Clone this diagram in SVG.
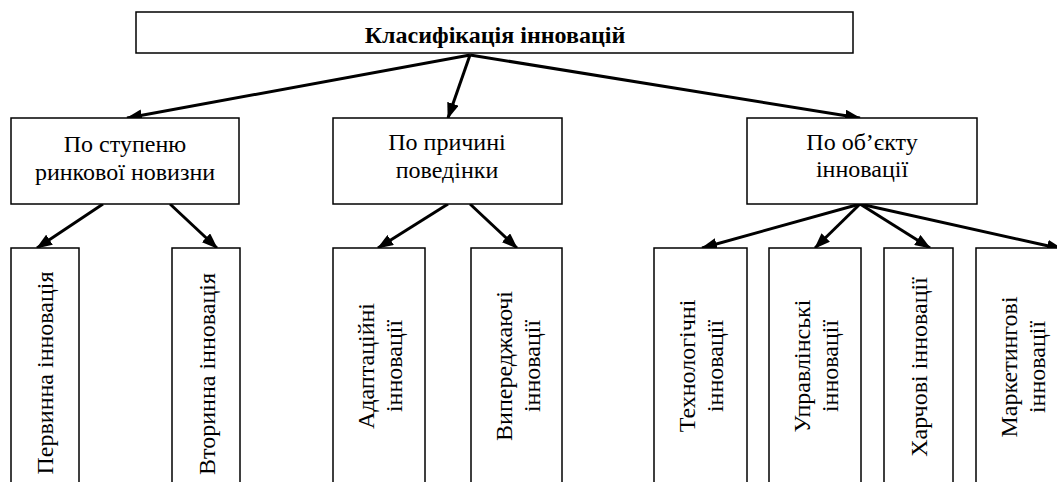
<svg xmlns="http://www.w3.org/2000/svg" width="1057" height="482" viewBox="0 0 1057 482">
<style>
.box{fill:#fff;stroke:#000;stroke-width:1.5}
.t{font-family:'Liberation Serif','Times New Roman',serif;font-size:24px;fill:#000;text-anchor:middle}
.title{font-weight:bold;font-size:24px}
.arr{stroke:#000;stroke-width:3;fill:none;marker-end:url(#ah)}
</style>
<defs>
<marker id="ah" markerUnits="userSpaceOnUse" viewBox="0 0 16 12" markerWidth="16" markerHeight="12" refX="15" refY="6" orient="auto">
<path d="M0,0 L16,6 L0,12 z" fill="#000"/>
</marker>
</defs>
<g id="connectors">
<line class="arr" x1="470" y1="55" x2="127" y2="118"/>
<line class="arr" x1="470" y1="55" x2="448" y2="118"/>
<line class="arr" x1="470" y1="55" x2="860" y2="118"/>
<line class="arr" x1="103" y1="204" x2="37" y2="248"/>
<line class="arr" x1="170" y1="204" x2="217" y2="248"/>
<line class="arr" x1="448" y1="204" x2="378" y2="248"/>
<line class="arr" x1="470" y1="204" x2="517" y2="248"/>
<line class="arr" x1="860" y1="204" x2="702" y2="248"/>
<line class="arr" x1="860" y1="204" x2="815" y2="248"/>
<line class="arr" x1="860" y1="204" x2="930" y2="248"/>
<line class="arr" x1="860" y1="204" x2="1062" y2="249"/>
</g>
<g id="root">
<rect class="box" x="136" y="12" width="717" height="41"/>
<text class="t title" x="495" y="43">Класифікація інновацій</text>
</g>
<g id="market">
<rect class="box" x="11" y="118" width="228" height="86"/>
<text class="t" x="125" y="152">По ступеню</text>
<text class="t" x="125" y="180">ринкової новизни</text>
</g>
<g id="behavior">
<rect class="box" x="333" y="118" width="229" height="86"/>
<text class="t" x="447" y="150">По причині</text>
<text class="t" x="447" y="178">поведінки</text>
</g>
<g id="object">
<rect class="box" x="747" y="118" width="230" height="86"/>
<text class="t" x="862" y="150">По об’єкту</text>
<text class="t" x="862" y="177">інновації</text>
</g>
<g id="primary">
<rect class="box" x="11" y="248" width="68" height="260"/>
<text class="t" transform="translate(53,373) rotate(-90)">Первинна інновація</text>
</g>
<g id="secondary">
<rect class="box" x="172" y="248" width="68" height="260"/>
<text class="t" transform="translate(215,374) rotate(-90)">Вторинна інновація</text>
</g>
<g id="adaptive">
<rect class="box" x="333" y="248" width="92" height="260"/>
<text class="t" transform="translate(374,366) rotate(-90)"><tspan x="0" y="0">Адаптаційні</tspan><tspan x="0" y="28">інновації</tspan></text>
</g>
<g id="leading">
<rect class="box" x="471" y="248" width="91" height="260"/>
<text class="t" transform="translate(512,366) rotate(-90)"><tspan x="0" y="0">Випереджаючі</tspan><tspan x="0" y="28">інновації</tspan></text>
</g>
<g id="tech">
<rect class="box" x="654" y="248" width="93" height="260"/>
<text class="t" transform="translate(695,366) rotate(-90)"><tspan x="0" y="0">Технологічні</tspan><tspan x="0" y="28">інновації</tspan></text>
</g>
<g id="mgmt">
<rect class="box" x="769" y="248" width="92" height="260"/>
<text class="t" transform="translate(810,366) rotate(-90)"><tspan x="0" y="0">Управлінські</tspan><tspan x="0" y="28">інновації</tspan></text>
</g>
<g id="food">
<rect class="box" x="884" y="248" width="69" height="260"/>
<text class="t" transform="translate(927,367) rotate(-90)">Харчові інновації</text>
</g>
<g id="marketing">
<rect class="box" x="976" y="248" width="92" height="260"/>
<text class="t" transform="translate(1017,367) rotate(-90)"><tspan x="0" y="0">Маркетингові</tspan><tspan x="0" y="28">інновації</tspan></text>
</g>
</svg>
